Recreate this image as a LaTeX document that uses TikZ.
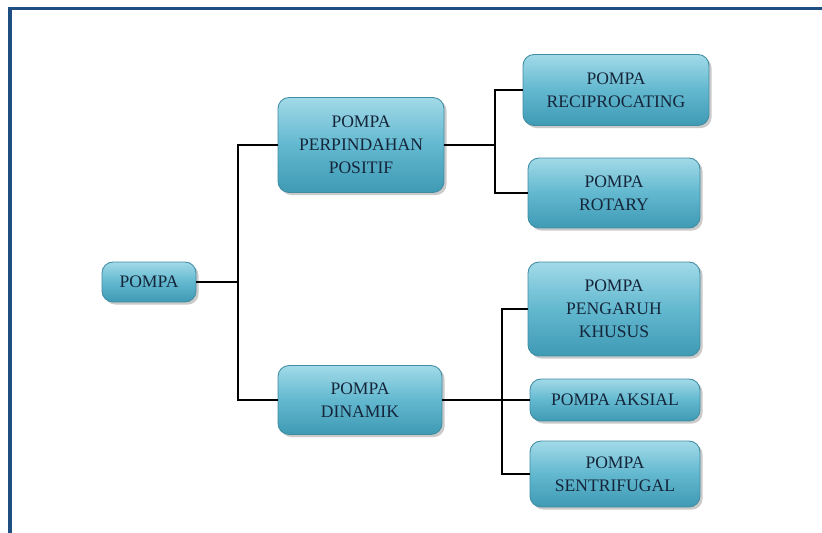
\documentclass[tikz,border=0pt]{standalone}
\usepackage{fontspec}
\setmainfont{Liberation Serif}
\usepackage{tikz}
\usetikzlibrary{shadows, calc}
\definecolor{frameblue}{HTML}{1F4F82}
\definecolor{boxtop}{HTML}{A2DAE8}
\definecolor{boxmid}{HTML}{62B8CF}
\definecolor{boxbot}{HTML}{3F9AB4}
\definecolor{boxedge}{HTML}{3F8CA3}
\definecolor{boxtext}{HTML}{15253A}

\begin{document}
\begin{tikzpicture}[
  x=0.02cm, y=-0.02cm,
  box/.style={draw=boxedge, line width=0.5pt, rounded corners=0.22cm,
    top color=boxtop, bottom color=boxbot, middle color=boxmid,
    font=\fontsize{10}{13}\selectfont, text=boxtext, align=center,
    inner sep=2pt,
    drop shadow={shadow xshift=1.5pt, shadow yshift=-1.5pt,
      opacity=0.35, fill=black!60}},
  link/.style={draw=black, line width=1.4pt}
]
  \useasboundingbox (0,0) rectangle (822,533);

  % frame (top and left only)
  \draw[frameblue, line width=2.1pt] (10,533) -- (10,8.5) -- (822,8.5);

  % root
  \node[box, minimum width=1.88cm, minimum height=0.8cm] (pompa) at (149,282) {POMPA};

  % level 1
  \node[box, minimum width=3.32cm, minimum height=1.9cm] (pp) at (361,145)
    {POMPA\\PERPINDAHAN\\POSITIF};
  \node[box, minimum width=3.28cm, minimum height=1.38cm] (din) at (360,400)
    {POMPA\\DINAMIK};

  % level 2, positive displacement
  \node[box, minimum width=3.72cm, minimum height=1.42cm] (recip) at (616,90)
    {POMPA\\RECIPROCATING};
  \node[box, minimum width=3.44cm, minimum height=1.4cm] (rot) at (614,193)
    {POMPA\\ROTARY};

  % level 2, dynamic
  \node[box, minimum width=3.44cm, minimum height=1.88cm] (khu) at (614,309)
    {POMPA\\PENGARUH\\KHUSUS};
  \node[box, minimum width=3.4cm, minimum height=0.84cm] (aks) at (615,400)
    {POMPA AKSIAL};
  \node[box, minimum width=3.4cm, minimum height=1.32cm] (sen) at (615,474)
    {POMPA\\SENTRIFUGAL};

  % connectors
  \coordinate (jA) at (238,282);
  \coordinate (jB) at (495,145);
  \coordinate (jC) at (502,400);
  \draw[link] (pompa.east) -- (jA);
  \draw[link] (pp.west) -| (jA) |- (din.west);
  \draw[link] (pp.east) -- (jB);
  \draw[link] (recip.west) -| (jB) |- (rot.west);
  \draw[link] (din.east) -- (aks.west);
  \draw[link] (khu.west) -| (jC) |- (sen.west);
\end{tikzpicture}
\end{document}
